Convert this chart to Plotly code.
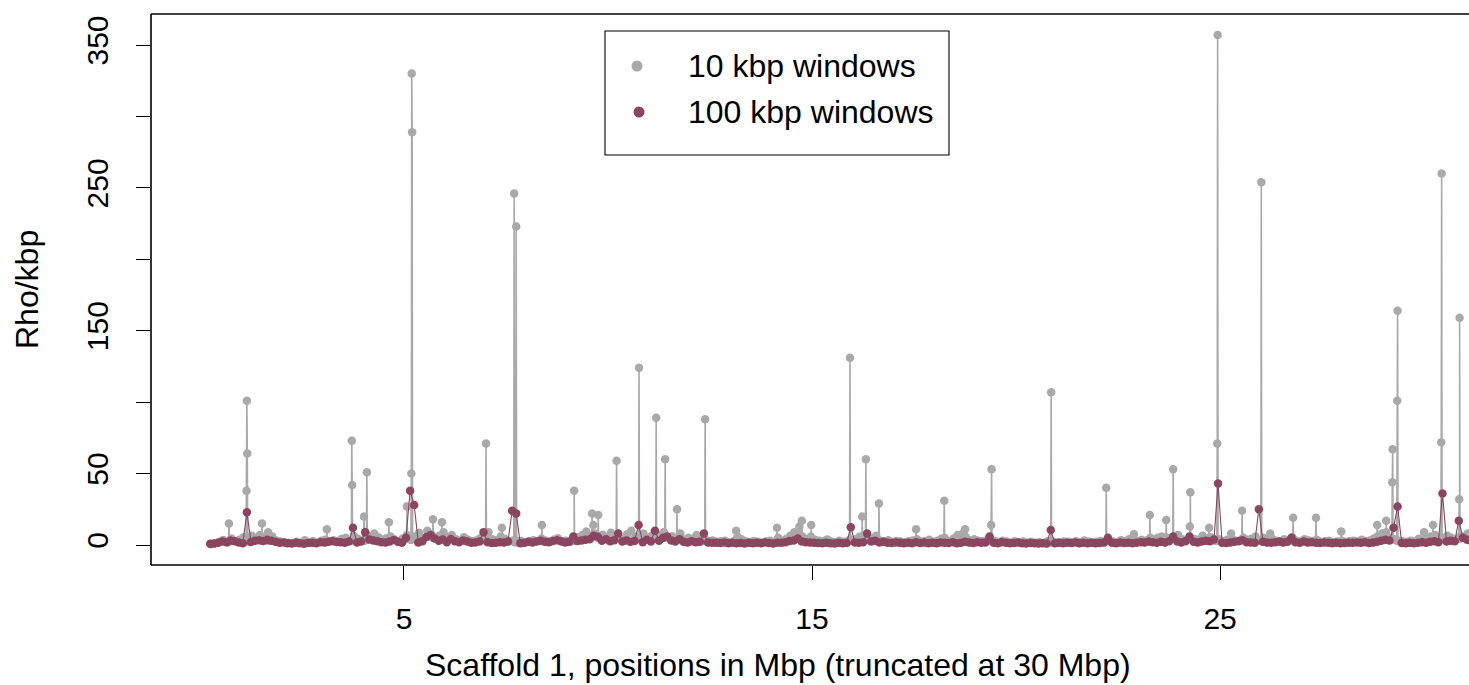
import plotly.graph_objects as go

FONT = "Liberation Sans, Arial, Helvetica, sans-serif"
GRAY = "#A9A9A9"
PURPLE = "#8B4560"

# ---------------- data ----------------
# 10 kbp windows: background windows (every 0.1 Mbp shown) + runs of consecutive windows around peaks
base10_start = 0.27
base10_step = 0.1
base10_vals = [
    0.6, 1.2, 2.2, 3.5, 2.0, 4.5, 2.8, 3.6, 5.5, 2.4,
    6.5, 4.8, 7.0, 5.2, 3.8, 6.0, 3.1, 2.5, 2.0, 1.6,
    1.4, 2.2, 1.6, 3.4, 1.8, 2.6, 1.5, 2.9, 3.6, 2.8,
    3.4, 2.6, 4.2, 5.0, 3.0, 6.5, 4.4, 3.2, 7.5, 5.0,
    8.0, 5.4, 3.6, 4.8, 6.0, 3.8, 2.6, 4.5, 7.0, 3.5,
    6.0, 8.5, 4.8, 10.0, 7.5, 5.2, 6.4, 9.0, 5.5, 7.0,
    4.2, 3.0, 5.5, 3.6, 2.8, 3.2, 4.8, 7.5, 9.0, 4.0,
    3.2, 6.0, 4.4, 2.6, 3.0, 2.2, 2.8, 1.8, 2.6, 3.4,
    2.8, 4.6, 3.2, 2.6, 3.6, 4.8, 2.4, 3.0, 2.2, 4.0,
    5.5, 7.0, 9.5, 6.0, 8.0, 5.0, 7.2, 4.5, 8.5, 6.0,
    5.2, 4.0, 7.5, 10.0, 6.0, 5.4, 8.0, 4.6, 6.5, 5.0,
    7.0, 9.0, 5.0, 6.2, 4.4, 8.0, 3.8, 5.0, 4.2, 7.0,
    3.4, 4.0, 2.8, 3.2, 2.2, 2.6, 3.0, 2.0, 2.4, 6.0,
    4.0, 2.6, 2.0, 2.8, 2.2, 1.8, 2.4, 3.0, 2.0, 5.0,
    3.0, 4.2, 6.5, 9.0, 8.0, 5.5, 4.0, 6.0, 3.6, 3.0,
    2.6, 3.8, 2.4, 2.0, 3.0, 2.2, 2.8, 3.4, 4.0, 6.0,
    5.0, 3.6, 4.4, 6.5, 3.0, 2.6, 3.4, 2.2, 2.8, 2.4,
    2.0, 2.6, 3.2, 4.0, 2.4, 2.8, 3.6, 2.2, 3.0, 4.4,
    3.6, 2.8, 4.6, 7.0, 7.5, 5.0, 3.2, 4.0, 3.0, 2.6,
    3.2, 4.5, 2.8, 2.2, 3.0, 2.4, 1.8, 2.6, 2.0, 2.4,
    1.8, 2.2, 1.6, 2.0, 1.4, 2.6, 3.0, 2.0, 1.8, 2.4,
    2.2, 1.8, 2.6, 2.0, 3.2, 2.4, 1.8, 2.2, 2.8, 2.0,
    3.0, 2.4, 2.0, 3.4, 2.6, 4.0, 2.2, 2.8, 3.6, 3.0,
    4.2, 3.6, 5.0, 6.0, 3.8, 4.6, 5.5, 7.0, 4.0, 3.4,
    5.0, 4.2, 3.6, 6.5, 4.8, 5.5, 3.0, 4.0, 2.6, 3.6,
    4.0, 3.2, 2.8, 5.0, 3.6, 4.4, 6.0, 3.0, 5.0, 3.6,
    4.5, 3.0, 2.6, 4.0, 3.4, 5.5, 3.0, 2.4, 4.0, 3.2,
    2.8, 3.6, 2.2, 2.6, 3.0, 2.0, 2.4, 3.0, 2.2, 2.6,
    3.0, 2.4, 3.6, 2.8, 3.2, 4.5, 6.0, 8.0, 9.0, 5.0,
    4.0, 3.0, 2.6, 2.2, 3.0, 2.4, 4.4, 3.2, 5.0, 6.0,
    7.0, 5.5, 4.0, 6.5, 5.0, 3.6, 4.4, 6.0, 8.0, 6.5,
    5.0,
]
win10_step = 0.01
# (start position in Mbp, rho/kbp of consecutive 10 kbp windows)
spikes10 = [
    (0.70, [2.0, 15.0, 2.5]),
    (1.13, [3.0, 38.0, 101.0, 64.0, 4.0]),
    (1.51, [3.0, 15.0, 4.0]),
    (1.66, [3.0, 9.0, 3.0]),
    (3.10, [2.0, 11.0, 2.5]),
    (3.71, [3.0, 73.0, 42.0, 3.5]),
    (4.01, [3.0, 20.0, 3.0]),
    (4.08, [3.5, 51.0, 4.0]),
    (4.62, [3.0, 16.0, 3.0]),
    (5.06, [4.0, 27.0, 5.0]),
    (5.17, [4.0, 50.0, 330.0, 289.0, 5.0]),
    (5.70, [5.0, 18.0, 6.0]),
    (5.92, [5.0, 16.0, 5.0]),
    (7.00, [3.0, 71.0, 4.0]),
    (7.39, [3.0, 12.0, 3.0]),
    (7.69, [3.0, 246.0, 2.0]),
    (7.74, [2.0, 223.0, 3.0]),
    (8.37, [3.0, 14.0, 3.0]),
    (9.16, [3.0, 38.0, 4.0]),
    (9.60, [5.0, 22.0, 6.0]),
    (9.63, [6.0, 14.0, 6.0]),
    (9.75, [5.0, 21.0, 6.0]),
    (10.20, [5.0, 59.0, 6.0]),
    (10.75, [5.0, 124.0, 6.0]),
    (11.17, [5.0, 89.0, 6.0]),
    (11.39, [5.0, 60.0, 6.0]),
    (11.68, [4.0, 25.0, 5.0]),
    (12.37, [3.0, 88.0, 3.0]),
    (13.13, [3.0, 10.0, 3.0]),
    (14.13, [3.0, 12.0, 3.0]),
    (14.68, [6.0, 13.0, 6.0]),
    (14.74, [6.0, 17.0, 6.0]),
    (14.97, [4.0, 14.0, 4.0]),
    (15.92, [3.0, 131.0, 4.0]),
    (16.22, [4.0, 20.0, 4.0]),
    (16.31, [4.0, 60.0, 4.0]),
    (16.63, [3.0, 29.0, 3.0]),
    (17.54, [3.0, 11.0, 3.0]),
    (18.23, [4.0, 31.0, 5.0]),
    (18.74, [5.0, 11.0, 6.0]),
    (19.38, [3.0, 14.0, 53.0, 3.0]),
    (20.85, [2.0, 107.0, 2.0]),
    (22.20, [2.5, 40.0, 3.0]),
    (22.88, [3.0, 7.5, 3.0]),
    (23.27, [4.0, 21.0, 5.0]),
    (23.67, [5.0, 17.5, 5.0]),
    (23.84, [5.0, 53.0, 5.0]),
    (24.25, [5.0, 13.0, 37.0, 4.0]),
    (24.72, [4.0, 12.0, 4.0]),
    (24.92, [4.0, 71.0, 357.0, 3.0]),
    (25.26, [3.0, 8.0, 3.0]),
    (25.53, [4.0, 24.0, 4.0]),
    (26.00, [3.0, 254.0, 3.0]),
    (26.22, [3.0, 8.0, 3.0]),
    (26.78, [3.0, 19.0, 3.0]),
    (27.34, [3.0, 19.0, 3.0]),
    (27.96, [2.0, 9.5, 2.0]),
    (28.84, [5.0, 14.0, 6.0]),
    (29.06, [6.0, 17.0, 5.0]),
    (29.21, [4.0, 44.0, 67.0, 4.0]),
    (29.33, [3.0, 101.0, 164.0, 3.0]),
    (29.99, [3.0, 9.0, 3.0]),
    (30.21, [5.0, 14.0, 5.0]),
    (30.41, [5.0, 72.0, 260.0, 5.0]),
    (30.85, [5.0, 32.0, 159.0, 6.0]),
]

# 100 kbp windows
win100_start = 0.25
win100_step = 0.1
rho100 = [
    0.8, 1.1, 1.6, 2.4, 1.9, 3.2, 2.6, 1.8, 1.2, 23.0,
    2.1, 3.0, 3.4, 2.8, 3.6, 2.9, 2.2, 1.6, 1.8, 1.3,
    1.1, 1.5, 1.2, 0.9, 1.4, 1.6, 1.3, 2.0, 1.7, 2.3,
    2.6, 2.1, 1.9, 1.5, 2.4, 12.0, 1.8, 2.5, 9.0, 3.8,
    3.2, 2.6, 2.0, 1.8, 2.4, 3.5, 2.2, 1.6, 5.0, 38.0,
    28.0, 1.8, 2.6, 5.6, 7.0, 4.6, 3.0, 3.8, 2.0, 4.2,
    2.6, 1.9, 3.2, 2.4, 1.6, 1.8, 2.4, 9.0, 2.0, 1.4,
    1.6, 2.0, 1.8, 2.5, 24.0, 22.0, 1.2, 1.5, 2.2, 1.8,
    2.4, 3.0, 2.2, 1.9, 2.8, 3.4, 2.6, 1.7, 2.2, 6.0,
    2.8, 3.2, 3.6, 4.0, 6.5, 5.8, 3.0, 4.0, 2.6, 3.4,
    8.0, 2.4, 3.1, 2.2, 2.8, 14.0, 2.0, 3.6, 2.4, 10.0,
    3.0, 5.0, 6.0, 3.2, 2.4, 4.0, 2.2, 1.8, 2.6, 1.9,
    2.2, 8.0, 1.8, 1.5, 1.6, 1.4, 1.8, 1.3, 1.6, 1.2,
    1.4, 1.1, 1.5, 1.3, 1.6, 1.2, 1.8, 1.4, 1.1, 1.6,
    1.5, 2.0, 2.8, 3.2, 4.6, 2.4, 2.0, 1.8, 1.6, 1.4,
    1.2, 1.6, 1.3, 1.1, 1.5, 1.2, 1.4, 12.5, 1.8, 1.6,
    2.0, 8.0, 2.4, 3.0, 1.8, 2.2, 1.6, 1.4, 1.8, 1.5,
    1.3, 1.6, 1.2, 1.9, 1.4, 1.7, 1.2, 1.5, 1.3, 1.8,
    1.6, 1.4, 1.9, 1.2, 1.6, 2.2, 1.8, 1.4, 2.0, 1.6,
    1.8, 6.0, 1.6, 1.3, 1.9, 1.5, 1.2, 1.4, 1.7, 1.3,
    1.1, 1.4, 1.2, 1.0, 1.3, 1.1, 10.5, 1.2, 1.5, 1.3,
    1.6, 1.4, 1.8, 1.2, 1.5, 1.3, 1.6, 1.2, 1.4, 1.7,
    5.0, 1.6, 1.3, 1.8, 1.4, 1.6, 1.2, 1.5, 2.0, 1.8,
    2.4, 2.0, 1.6, 2.2, 1.8, 2.6, 6.0, 2.4, 1.8, 2.6,
    6.0, 2.2, 1.8, 2.4, 3.0, 2.6, 3.8, 43.0, 1.6, 1.4,
    1.8, 2.2, 2.6, 3.4, 2.0, 1.8, 1.6, 25.0, 2.2, 1.8,
    1.6, 2.0, 2.4, 1.8, 2.2, 5.0, 1.9, 1.6, 2.4, 1.8,
    2.0, 1.6, 1.4, 1.8, 1.5, 1.3, 1.6, 1.2, 1.4, 1.6,
    1.5, 1.8, 1.6, 2.0, 1.4, 1.7, 2.2, 3.0, 3.6, 3.2,
    12.0, 27.0, 1.4, 1.2, 1.6, 1.3, 1.5, 2.0, 1.6, 2.2,
    2.6, 2.0, 36.0, 2.4, 3.0, 2.6, 17.0, 5.0, 3.6, 2.8,
    2.4, 2.0,
]

x_ticks = [5, 15, 25]
x_tick_labels = ["5", "15", "25"]
y_ticks = [0, 50, 100, 150, 200, 250, 300, 350]
y_tick_labels = ["0", "50", "", "150", "", "250", "", "350"]
x_range = [-1.2, 31.1]
y_range = [-14.0, 371.7]
legend_labels = ["10 kbp windows", "100 kbp windows"]
x_title = "Scaffold 1, positions in Mbp (truncated at 30 Mbp)"
y_title = "Rho/kbp"

# ---------------- build series ----------------
pts10 = [(round(base10_start + i * base10_step, 3), v) for i, v in enumerate(base10_vals)]
for start, vals in spikes10:
    for j, v in enumerate(vals):
        pts10.append((round(start + j * win10_step, 3), v))
pts10.sort(key=lambda p: p[0])
pos10 = [p[0] for p in pts10]
val10 = [p[1] for p in pts10]

pos100 = [round(win100_start + i * win100_step, 3) for i in range(len(rho100))]

fig = go.Figure()
fig.add_trace(go.Scatter(
    x=pos10, y=val10, mode="lines+markers",
    line=dict(color=GRAY, width=1.6),
    marker=dict(color=GRAY, size=8.5, line=dict(width=0)),
    showlegend=False, hoverinfo="skip", cliponaxis=True,
))
fig.add_trace(go.Scatter(
    x=pos100, y=rho100, mode="lines+markers",
    line=dict(color=PURPLE, width=1.1),
    marker=dict(color=PURPLE, size=8.5, line=dict(width=0)),
    showlegend=False, hoverinfo="skip", cliponaxis=True,
))

W, H = 1469, 685
L, R, T, B = 151, 0, 14, 120
PW, PH = W - L - R, H - T - B


def px(xp):
    return (xp - L) / PW


def py(yp):
    return (H - B - yp) / PH


shapes = [
    dict(type="line", xref="paper", yref="paper", x0=0, x1=0, y0=0, y1=1,
         line=dict(color="black", width=1.6)),
    dict(type="line", xref="paper", yref="paper", x0=0, x1=1.01, y0=1, y1=1,
         line=dict(color="black", width=1.6)),
    dict(type="line", xref="paper", yref="paper", x0=0, x1=1.01, y0=0, y1=0,
         line=dict(color="black", width=1.6)),
    # legend box
    dict(type="rect", xref="paper", yref="paper", x0=px(605), x1=px(949), y0=py(155), y1=py(31),
         line=dict(color="black", width=1.1), fillcolor="white", layer="above"),
]
legend_colors = [GRAY, PURPLE]
legend_y = [66, 112]
legend_dot_x = [637, 639]
annotations = []
for lab, col, yy, xx in zip(legend_labels, legend_colors, legend_y, legend_dot_x):
    shapes.append(dict(type="circle", xref="paper", yref="paper", xsizemode="pixel", ysizemode="pixel",
                       xanchor=px(xx), yanchor=py(yy), x0=-5.5, x1=5.5, y0=-5.5, y1=5.5,
                       fillcolor=col, line=dict(width=0), layer="above"))
    annotations.append(dict(text=lab, xref="paper", yref="paper", x=px(686), y=py(yy),
                            xanchor="left", yanchor="middle", showarrow=False,
                            font=dict(family=FONT, size=32, color="black")))

annotations.append(dict(text=x_title, xref="paper", yref="paper", x=px(777.5), y=py(665),
                        xanchor="center", yanchor="middle", showarrow=False,
                        font=dict(family=FONT, size=32, color="black")))
annotations.append(dict(text=y_title, xref="paper", yref="paper", x=px(27), y=py(289),
                        xanchor="center", yanchor="middle", showarrow=False, textangle=-90,
                        font=dict(family=FONT, size=32, color="black")))

fig.update_layout(
    width=W, height=H,
    margin=dict(l=L, r=R, t=T, b=B, pad=0),
    paper_bgcolor="white", plot_bgcolor="white",
    showlegend=False,
    shapes=shapes, annotations=annotations,
    font=dict(family=FONT, size=30, color="black"),
)
fig.update_xaxes(range=x_range, tickvals=x_ticks, ticktext=x_tick_labels,
                 ticks="outside", ticklen=14, tickwidth=1.4, tickcolor="black",
                 ticklabelstandoff=13,
                 showgrid=False, zeroline=False, showline=False,
                 tickfont=dict(family=FONT, size=30, color="black"))
fig.update_yaxes(range=y_range, tickvals=y_ticks, ticktext=y_tick_labels,
                 ticks="outside", ticklen=14, tickwidth=1.4, tickcolor="black", tickangle=-90,
                 ticklabelstandoff=16,
                 showgrid=False, zeroline=False, showline=False,
                 tickfont=dict(family=FONT, size=30, color="black"))

fig.write_html("out.html", post_script="document.body.style.margin='0';",
               config={"displayModeBar": False})
